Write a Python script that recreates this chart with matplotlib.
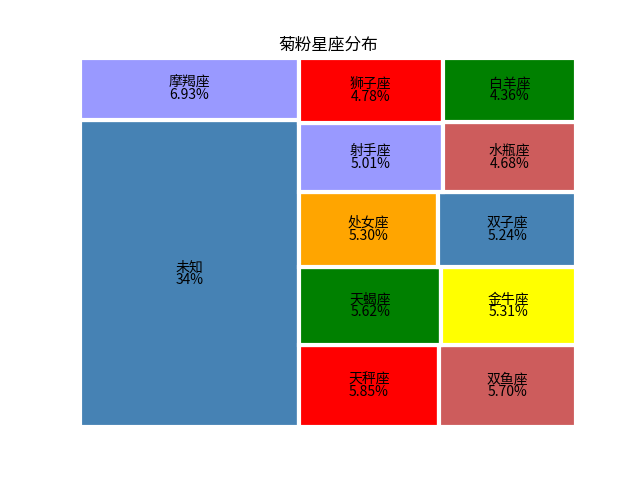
import matplotlib
matplotlib.use('Agg')
import matplotlib.pyplot as plt

plt.rcParams['font.family'] = ['Noto Sans CJK SC', 'DejaVu Sans']

# 星座占比数据
names = ['未知', '摩羯座', '天秤座', '双鱼座', '天蝎座', '金牛座',
         '处女座', '双子座', '射手座', '狮子座', '水瓶座', '白羊座']
percents = [34, 6.93, 5.85, 5.70, 5.62, 5.31, 5.30, 5.24, 5.01, 4.78, 4.68, 4.36]
pct_text = ['34%', '6.93%', '5.85%', '5.70%', '5.62%', '5.31%',
            '5.30%', '5.24%', '5.01%', '4.78%', '4.68%', '4.36%']
palette = ['steelblue', '#9999ff', 'red', 'indianred', 'green', 'yellow', 'orange']


# 简单的 squarify 算法
def layout_row(sizes, x, y, dx, dy):
    width = sum(sizes) / dy
    rects = []
    for s in sizes:
        rects.append((x, y, width, s / width))
        y += s / width
    return rects


def layout_col(sizes, x, y, dx, dy):
    height = sum(sizes) / dx
    rects = []
    for s in sizes:
        rects.append((x, y, s / height, height))
        x += s / height
    return rects


def layout(sizes, x, y, dx, dy):
    if dx >= dy:
        return layout_row(sizes, x, y, dx, dy)
    return layout_col(sizes, x, y, dx, dy)


def leftover(sizes, x, y, dx, dy):
    if dx >= dy:
        w = sum(sizes) / dy
        return x + w, y, dx - w, dy
    h = sum(sizes) / dx
    return x, y + h, dx, dy - h


def worst_ratio(sizes, x, y, dx, dy):
    return max(max(r[2] / r[3], r[3] / r[2]) for r in layout(sizes, x, y, dx, dy))


def squarify(sizes, x, y, dx, dy):
    if len(sizes) == 0:
        return []
    if len(sizes) == 1:
        return layout(sizes, x, y, dx, dy)
    i = 1
    while i < len(sizes) and worst_ratio(sizes[:i], x, y, dx, dy) >= worst_ratio(sizes[:i + 1], x, y, dx, dy):
        i += 1
    cur, rest = sizes[:i], sizes[i:]
    lx, ly, ldx, ldy = leftover(cur, x, y, dx, dy)
    return layout(cur, x, y, dx, dy) + squarify(rest, lx, ly, ldx, ldy)


W, H = 100.0, 100.0
total = sum(percents)
norm = [p * W * H / total for p in percents]
rects = squarify(norm, 0, 0, W, H)

fig, ax = plt.subplots(figsize=(6.4, 4.8), dpi=100)
colors = [palette[i % len(palette)] for i in range(len(names))]
xs = [r[0] for r in rects]
ys = [r[1] for r in rects]
ws = [r[2] for r in rects]
hs = [r[3] for r in rects]
ax.bar(xs, hs, width=ws, bottom=ys, color=colors, align='edge',
       edgecolor='white', linewidth=3)

for r, n, t in zip(rects, names, pct_text):
    ax.text(r[0] + r[2] / 2, r[1] + r[3] / 2, n + '\n' + t,
            ha='center', va='center', fontsize=10, linespacing=0.9)

ax.set_xlim(0, W)
ax.set_ylim(0, H)
ax.set_title('菊粉星座分布')
plt.axis('off')
plt.savefig('out.png', dpi=100)
